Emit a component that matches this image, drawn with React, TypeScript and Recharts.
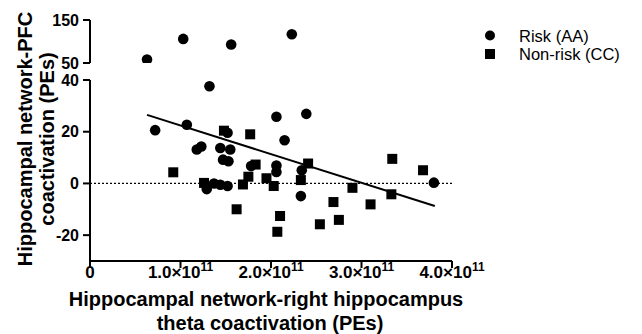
import { ScatterChart, Scatter, XAxis, YAxis, ReferenceLine } from 'recharts';

// x values are in units of 1e11 PEs
const riskUpper = [
  [0.63, 58], [1.03, 106], [1.56, 93], [2.23, 117],
];
const riskLower = [
  [0.72, 20.6], [1.07, 22.7], [1.18, 13.1], [1.23, 14.3], [1.32, 37.6],
  [1.29, -2.2], [1.37, 0], [1.44, -0.5], [1.52, -1.0], [1.44, 13.7],
  [1.55, 13.1], [1.47, 9.2], [1.53, 8.6], [1.52, 19.6], [1.78, 6.7],
  [2.06, 25.8], [2.15, 16.7], [2.39, 26.9], [2.06, 6.9], [2.06, 4.4],
  [2.34, 5.1], [2.33, -4.9], [3.8, 0.3],
];
const nonRisk = [
  [0.92, 4.3], [1.26, 0.2], [1.48, 20.4], [1.77, 19.0], [1.83, 7.3],
  [1.75, 2.6], [1.69, -0.4], [1.62, -10], [1.95, 2.0], [2.03, -1.0],
  [2.1, -12.6], [2.07, -18.7], [2.41, 7.7], [2.33, 1.3], [2.69, -7.2],
  [2.54, -15.8], [2.75, -14.1], [2.9, -1.7], [3.1, -8.1], [3.34, 9.5],
  [3.33, -4.2], [3.68, 5.1],
];
const fitLine = [[0.63, 26.5], [3.81, -8.7]];

const xTicks = [0, 1, 2, 3, 4];
const yTicksUpper = [50, 150];
const yTicksLower = [-20, 0, 20, 40];

const FONT = '"Liberation Sans", Arial, sans-serif';
const W = 642;
const H = 334;

const toPts = (arr: number[][]) => arr.map(([x, y]) => ({ x, y }));

const Dot = (p: any) => <circle cx={p.cx} cy={p.cy} r={5.3} fill="#000" />;
const Sq = (p: any) => <rect x={p.cx - 5} y={p.cy - 5} width={10} height={10} fill="#000" />;

const XTick = ({ x, y, payload }: any) => {
  const v = payload.value;
  return (
    <text x={x} y={y + 10} textAnchor="middle" fontSize={17} fontWeight="bold" fill="#000" fontFamily={FONT}>
      {v === 0 ? (
        '0'
      ) : (
        <>
          <tspan>{v.toFixed(1)}×10</tspan>
          <tspan dy={-7} fontSize={12}>11</tspan>
        </>
      )}
    </text>
  );
};

const axisStyle = { stroke: '#000', strokeWidth: 2 };
const tickStyle = { fill: '#000', fontSize: 16, fontWeight: 'bold', fontFamily: FONT };

export default function App() {
  return (
    <div style={{ position: 'absolute', left: 0, top: 0, width: W, height: H, background: '#fff' }}>
      {/* lower part of the broken y axis */}
      <div style={{ position: 'absolute', left: 0, top: 0 }}>
        <ScatterChart width={W} height={H} margin={{ top: 80, right: 190, bottom: 43, left: 0 }}>
          <XAxis
            type="number"
            dataKey="x"
            domain={[0, 4]}
            ticks={xTicks}
            height={30}
            axisLine={axisStyle}
            tickLine={axisStyle}
            tickSize={7}
            tickMargin={0}
            tick={<XTick />}
          />
          <YAxis
            type="number"
            dataKey="y"
            domain={[-30, 40]}
            ticks={yTicksLower}
            width={90}
            axisLine={axisStyle}
            tickLine={axisStyle}
            tickSize={7}
            tickMargin={4}
            tick={tickStyle}
            allowDataOverflow
          />
          <ReferenceLine y={0} stroke="#000" strokeWidth={1.2} strokeDasharray="2 2" />
          <ReferenceLine
            segment={fitLine.map(([x, y]) => ({ x, y }))}
            stroke="#000"
            strokeWidth={2}
          />
          <Scatter data={toPts(riskLower)} shape={Dot} isAnimationActive={false} />
          <Scatter data={toPts(nonRisk)} shape={Sq} isAnimationActive={false} />
        </ScatterChart>
      </div>
      {/* upper part of the broken y axis */}
      <div style={{ position: 'absolute', left: 0, top: 0 }}>
        <ScatterChart width={W} height={H} margin={{ top: 20, right: 190, bottom: H - 63, left: 0 }}>
          <XAxis type="number" dataKey="x" domain={[0, 4]} hide />
          <YAxis
            type="number"
            dataKey="y"
            domain={[50, 150]}
            ticks={yTicksUpper}
            width={90}
            axisLine={axisStyle}
            tickLine={axisStyle}
            tickSize={7}
            tickMargin={4}
            tick={tickStyle}
            allowDataOverflow
          />
          <Scatter data={toPts(riskUpper)} shape={Dot} isAnimationActive={false} />
        </ScatterChart>
      </div>
      {/* titles and legend */}
      <svg width={W} height={H} style={{ position: 'absolute', left: 0, top: 0, pointerEvents: 'none' }}>
        <g fontFamily={FONT} fontWeight="bold" fontSize={20} fill="#000" textAnchor="middle">
          <text transform="translate(32,139) rotate(-90)">Hippocampal network-PFC</text>
          <text transform="translate(54,139) rotate(-90)">coactivation (PEs)</text>
          <text x={266} y={306}>Hippocampal network-right hippocampus</text>
          <text x={270} y={330}>theta coactivation (PEs)</text>
        </g>
        <circle cx={490} cy={35.5} r={5} fill="#000" />
        <rect x={485} y={49} width={10} height={10} fill="#000" />
        <g fontFamily={FONT} fontSize={16.5} fill="#000">
          <text x={519} y={41.5}>Risk (AA)</text>
          <text x={519} y={60}>Non-risk (CC)</text>
        </g>
      </svg>
    </div>
  );
}
